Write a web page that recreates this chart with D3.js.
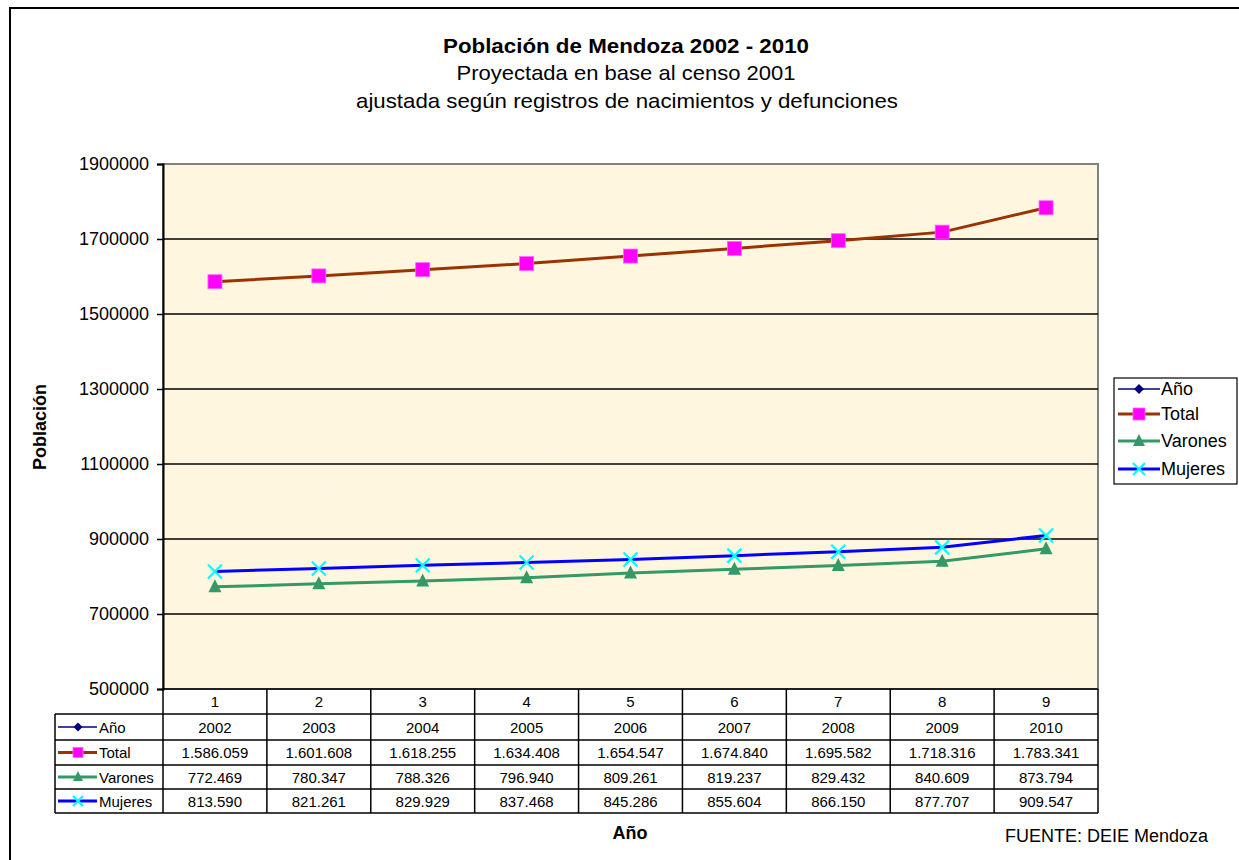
<!DOCTYPE html>
<html><head><meta charset="utf-8">
<script src="https://cdn.jsdelivr.net/npm/d3@7"></script>
<style>body{margin:0;background:#fff;}svg{display:block;font-family:"Liberation Sans",Arial,sans-serif;}</style>
</head><body>
<script>
const categories = ["1","2","3","4","5","6","7","8","9"];
const anio = [2002,2003,2004,2005,2006,2007,2008,2009,2010];
const total = [1586059,1601608,1618255,1634408,1654547,1674840,1695582,1718316,1783341];
const varones = [772469,780347,788326,796940,809261,819237,829432,840609,873794];
const mujeres = [813590,821261,829929,837468,845286,855604,866150,877707,909547];
const yTicks = [500000,700000,900000,1100000,1300000,1500000,1700000,1900000];
const seriesNames = ["Año","Total","Varones","Mujeres"];
const tableLabels = ["2002","2003","2004","2005","2006","2007","2008","2009","2010"];
const totalLabels = ["1.586.059","1.601.608","1.618.255","1.634.408","1.654.547","1.674.840","1.695.582","1.718.316","1.783.341"];
const varonesLabels = ["772.469","780.347","788.326","796.940","809.261","819.237","829.432","840.609","873.794"];
const mujeresLabels = ["813.590","821.261","829.929","837.468","845.286","855.604","866.150","877.707","909.547"];

const W=1239,H=860;
const svg=d3.select("body").append("svg").attr("width",W).attr("height",H);
const defs=svg.append("defs");
const f=defs.append("filter").attr("id","paper").attr("x",0).attr("y",0).attr("width","100%").attr("height","100%");
f.append("feTurbulence").attr("type","fractalNoise").attr("baseFrequency","0.03").attr("numOctaves",3).attr("seed",4).attr("result","n");
f.append("feColorMatrix").attr("in","n").attr("type","matrix")
 .attr("values","0 0 0 0 0.98  0 0 0 0 0.92  0 0 0 0 0.78  0 0 0 -0.7 0.4").attr("result","c");
f.append("feComposite").attr("in","c").attr("in2","SourceGraphic").attr("operator","over");

// outer frame
svg.append("rect").attr("x",10).attr("y",8).attr("width",W+20).attr("height",H+20).attr("fill","#fff").attr("stroke","#000").attr("stroke-width",2);

const L=163,R=1098,T=164,B=689;
const x=d3.scaleBand().domain(categories).range([L,R]);
const y=d3.scaleLinear().domain([500000,1900000]).range([B,T]);

// plot bg
svg.append("rect").attr("x",L).attr("y",T).attr("width",R-L).attr("height",B-T).attr("fill","#fff6df").attr("filter","url(#paper)");
svg.append("rect").attr("x",L).attr("y",T).attr("width",R-L).attr("height",B-T).attr("fill","none").attr("stroke","#808080").attr("stroke-width",2);

// gridlines
svg.append("g").selectAll("line").data(yTicks.slice(1,-1)).join("line")
 .attr("x1",L).attr("x2",R).attr("y1",d=>y(d)).attr("y2",d=>y(d)).attr("stroke","#000").attr("stroke-width",1.3);

// y axis
const ya=svg.append("g").attr("transform",`translate(${L},0)`).call(d3.axisLeft(y).tickValues(yTicks).tickSize(6).tickPadding(8).tickFormat(d3.format("d")));
ya.select(".domain").attr("stroke","#000").attr("stroke-width",2);
ya.selectAll(".tick line").attr("stroke","#000").attr("stroke-width",1.5);
ya.selectAll("text").attr("font-size",18).attr("font-family","Liberation Sans, Arial").attr("fill","#000");

// titles
svg.append("text").attr("x",626).attr("y",53).attr("text-anchor","middle").attr("font-size",21).attr("font-weight","bold").attr("textLength",366).attr("lengthAdjust","spacingAndGlyphs").text("Población de Mendoza 2002 - 2010");
svg.append("text").attr("x",626).attr("y",80).attr("text-anchor","middle").attr("font-size",21).attr("textLength",339).attr("lengthAdjust","spacingAndGlyphs").text("Proyectada en base al censo 2001");
svg.append("text").attr("x",627).attr("y",108).attr("text-anchor","middle").attr("font-size",21).attr("textLength",542).attr("lengthAdjust","spacingAndGlyphs").text("ajustada según registros de nacimientos y defunciones");
svg.append("text").attr("transform","translate(46,427) rotate(-90)").attr("text-anchor","middle").attr("font-size",18).attr("font-weight","bold").text("Población");
svg.append("text").attr("x",630).attr("y",839).attr("text-anchor","middle").attr("font-size",18).attr("font-weight","bold").text("Año");
svg.append("text").attr("x",1208).attr("y",842).attr("text-anchor","end").attr("font-size",18).text("FUENTE: DEIE Mendoza");

// series
const series=[
 {name:"Año",vals:anio,color:"#000080",w:1.5,marker:"diamond",mfill:"#000080"},
 {name:"Total",vals:total,color:"#993300",w:3,marker:"square",mfill:"#ff00ff"},
 {name:"Varones",vals:varones,color:"#339966",w:3,marker:"triangle",mfill:"#339966"},
 {name:"Mujeres",vals:mujeres,color:"#0000ff",w:3,marker:"x",mfill:"#00ffff"}
];
function drawMarker(g,type,fill,cx,cy,s){
 if(type==="square") g.append("rect").attr("x",cx-s/2).attr("y",cy-s/2).attr("width",s).attr("height",s).attr("fill",fill).attr("stroke","#ff66ff").attr("stroke-width",0.8);
 else if(type==="triangle") g.append("path").attr("d",`M${cx},${cy-s/2-1}L${cx+s/2},${cy+s/2-1}L${cx-s/2},${cy+s/2-1}Z`).attr("fill",fill);
 else if(type==="diamond") g.append("path").attr("d",`M${cx},${cy-s/2}L${cx+s/2},${cy}L${cx},${cy+s/2}L${cx-s/2},${cy}Z`).attr("fill",fill);
 else if(type==="x"){const h=s/2;g.append("path").attr("d",`M${cx-h},${cy-h}L${cx+h},${cy+h}M${cx-h},${cy+h}L${cx+h},${cy-h}`).attr("stroke",fill).attr("stroke-width",2.2);}
}
defs.append("clipPath").attr("id","pc").append("rect").attr("x",L).attr("y",T-10).attr("width",R-L).attr("height",B-T+10);
const pg=svg.append("g").attr("clip-path","url(#pc)");
const line=d3.line().x((d,i)=>x(categories[i])+x.bandwidth()/2).y(d=>y(d));
series.forEach(s=>{
 pg.append("path").datum(s.vals).attr("d",line).attr("fill","none").attr("stroke",s.color).attr("stroke-width",s.w);
 const mg=pg.append("g");
 s.vals.forEach((v,i)=>{ if(v>=500000) drawMarker(mg,s.marker,s.mfill,x(categories[i])+x.bandwidth()/2,y(v),s.marker==="x"?14:(s.marker==="square"?14:13)); });
});

// legend
const lg=svg.append("g");
lg.append("rect").attr("x",1114).attr("y",378).attr("width",123).attr("height",106).attr("fill","#fff").attr("stroke","#000").attr("stroke-width",1.2);
const ly=[389,414,441,469];
series.forEach((s,i)=>{
 lg.append("line").attr("x1",1118).attr("x2",1160).attr("y1",ly[i]).attr("y2",ly[i]).attr("stroke",s.color).attr("stroke-width",s.w);
 drawMarker(lg,s.marker,s.mfill,1139,ly[i],s.marker==="diamond"?10:12);
 lg.append("text").attr("x",1161).attr("y",ly[i]+6).attr("font-size",18).text(s.name);
});

// data table
const rowsY=[689,714,740,765,789,813];
const tl=55;
const tg=svg.append("g");
const tableRows=[categories,tableLabels,totalLabels,varonesLabels,mujeresLabels];
tableRows.forEach((row,r)=>{
 row.forEach((t,i)=>{
  tg.append("text").attr("x",x(categories[i])+x.bandwidth()/2).attr("y",(rowsY[r]+rowsY[r+1])/2+5.5).attr("text-anchor","middle").attr("font-size",15).text(t);
 });
});
const colX=categories.map(c=>x(c)).concat([R]);
colX.forEach(cx=>tg.append("line").attr("x1",cx).attr("x2",cx).attr("y1",B).attr("y2",rowsY[5]).attr("stroke","#000").attr("stroke-width",1.5));
tg.append("line").attr("x1",tl).attr("x2",tl).attr("y1",rowsY[1]).attr("y2",rowsY[5]).attr("stroke","#000").attr("stroke-width",1.5);
rowsY.forEach((ry,r)=>{
 tg.append("line").attr("x1",r===0?L:tl).attr("x2",R).attr("y1",ry).attr("y2",ry).attr("stroke","#000").attr("stroke-width",1.5);
});
series.forEach((s,i)=>{
 const cy=(rowsY[i+1]+rowsY[i+2])/2;
 tg.append("line").attr("x1",58).attr("x2",97).attr("y1",cy).attr("y2",cy).attr("stroke",s.color).attr("stroke-width",s.w);
 drawMarker(tg,s.marker,s.mfill,78,cy,s.marker==="diamond"?9:10);
 tg.append("text").attr("x",99).attr("y",cy+5.5).attr("font-size",15).text(s.name);
});
</script>
</body></html>
